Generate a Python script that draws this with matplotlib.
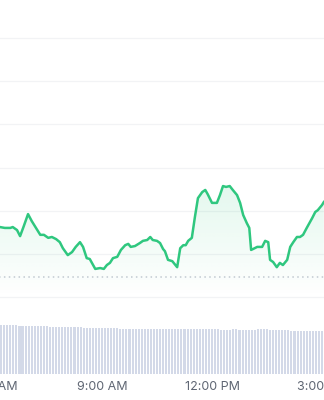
import numpy as np
import pandas as pd
import matplotlib
matplotlib.use("Agg")
import matplotlib.pyplot as plt

# price points (time of day, price)
times = ["6:13", "6:21", "6:30", "6:34", "6:41", "6:46", "6:52", "6:59", "7:05", "7:12",
         "7:19", "7:25", "7:32", "7:38", "7:45", "7:51", "7:56", "8:04", "8:11", "8:17",
         "8:24", "8:29", "8:35", "8:40", "8:49", "8:57", "9:03", "9:08", "9:13", "9:18",
         "9:25", "9:31", "9:38", "9:43", "9:47", "9:54", "10:02", "10:07", "10:14", "10:19",
         "10:23", "10:30", "10:35", "10:40", "10:43", "10:48", "10:55", "10:59", "11:03", "11:08",
         "11:13", "11:17", "11:21", "11:27", "11:32", "11:37", "11:44", "11:49", "11:53", "12:00",
         "12:05", "12:08", "12:13", "12:18", "12:23", "12:29", "12:34", "12:41", "12:46", "12:51",
         "12:57", "13:01", "13:04", "13:07", "13:14", "13:22", "13:27", "13:32", "13:35", "13:40",
         "13:46", "13:51", "13:56", "14:03", "14:08", "14:13", "14:19", "14:24", "14:29", "14:35",
         "14:44", "14:49", "14:53", "15:00", "15:03"]
prices = [1.4162, 1.4160, 1.4160, 1.4162, 1.4155, 1.4141, 1.4164, 1.4192, 1.4176, 1.4160,
          1.4144, 1.4144, 1.4137, 1.4139, 1.4134, 1.4127, 1.4113, 1.4097, 1.4104, 1.4116,
          1.4127, 1.4116, 1.4090, 1.4088, 1.4065, 1.4067, 1.4065, 1.4074, 1.4079, 1.4090,
          1.4093, 1.4109, 1.4120, 1.4123, 1.4116, 1.4118, 1.4125, 1.4130, 1.4132, 1.4139,
          1.4132, 1.4130, 1.4125, 1.4111, 1.4106, 1.4086, 1.4083, 1.4076, 1.4069, 1.4113,
          1.4120, 1.4120, 1.4130, 1.4137, 1.4185, 1.4229, 1.4243, 1.4248, 1.4238, 1.4218,
          1.4218, 1.4218, 1.4236, 1.4257, 1.4255, 1.4257, 1.4248, 1.4236, 1.4218, 1.4190,
          1.4171, 1.4160, 1.4109, 1.4111, 1.4116, 1.4116, 1.4130, 1.4127, 1.4086, 1.4081,
          1.4069, 1.4079, 1.4074, 1.4086, 1.4116, 1.4127, 1.4139, 1.4139, 1.4144, 1.4160,
          1.4183, 1.4197, 1.4201, 1.4213, 1.4220]
open_price = 1.4046

# 5-minute volume bars, from 6:15
volumes = [4.9, 4.9, 4.9, 4.9, 4.9, 4.9, 4.8, 4.8, 4.8, 4.8,
           4.8, 4.8, 4.8, 4.8, 4.8, 4.8, 4.7, 4.7, 4.7, 4.7, 4.7,
           4.7, 4.7, 4.7, 4.7, 4.7, 4.7, 4.6, 4.6, 4.6, 4.6, 4.6, 4.6,
           4.6, 4.6, 4.6, 4.6, 4.6, 4.6, 4.5, 4.5, 4.5, 4.5, 4.5, 4.5,
           4.5, 4.5, 4.5, 4.5, 4.5, 4.5, 4.5, 4.5, 4.5, 4.5, 4.5, 4.5,
           4.5, 4.5, 4.5, 4.5, 4.5, 4.5, 4.5, 4.5, 4.5, 4.5, 4.5, 4.5,
           4.5, 4.5, 4.5, 4.4, 4.4, 4.4, 4.4, 4.5, 4.5, 4.4, 4.4, 4.4,
           4.4, 4.4, 4.4, 4.5, 4.5, 4.5, 4.5, 4.4, 4.4, 4.4, 4.4, 4.4,
           4.4, 4.4, 4.3, 4.3, 4.3, 4.3, 4.3, 4.3, 4.3, 4.3, 4.3, 4.3,
           4.3, 4.3]

tick_hours = [6, 9, 12, 15]
tick_labels = ["6:00 AM", "9:00 AM", "12:00 PM", "3:00 PM"]


def to_hours(s):
    h, m = s.split(":")
    return int(h) + int(m) / 60


x = np.array([to_hours(t) for t in times])
y = np.array(prices)
vol_x = np.array([to_hours(t.strftime("%H:%M"))
                  for t in pd.date_range("2024-01-01 06:15", periods=len(volumes), freq="5min")])

green = "#2fc77f"
xlim = (5.128, 16.145)

fig = plt.figure(figsize=(3.24, 4.0), dpi=100)
ax = fig.add_axes([-40 / 324, 0.236, 404 / 324, 0.6905])
ax.set_xlim(*xlim)
ax.set_ylim(1.398, 1.462)

for g in np.arange(1.40, 1.4601, 0.01):
    ax.axhline(g, color="#f2f3f5", lw=0.9, zorder=0)
ax.axhline(open_price, color="#c5cad3", lw=1.1, ls=(0, (1, 2.2)), zorder=1)

# gradient fill under the line
base = 1.40
poly = ax.fill_between(x, y, base, color="none", lw=0)
rgba = np.zeros((256, 1, 4))
rgba[:, 0, :3] = matplotlib.colors.to_rgb(green)
rgba[:, 0, 3] = np.linspace(0, 1, 256) * 0.13
img = ax.imshow(rgba, extent=[x[0], x[-1], base, y.max()], origin="lower",
                aspect="auto", zorder=1, interpolation="bilinear")
img.set_clip_path(poly.get_paths()[0], transform=ax.transData)
ax.set_xlim(*xlim)
ax.set_ylim(1.398, 1.462)

ax.plot(x, y, color=green, lw=1.8, solid_joinstyle="round", zorder=3)
ax.axis("off")

vax = fig.add_axes([-40 / 324, 26 / 400, 404 / 324, 60 / 400])
vax.bar(vol_x, volumes, width=3.4 / 60, color="#d3d9e8", linewidth=0)
vax.set_xlim(*xlim)
vax.set_ylim(0, 6)
for s in vax.spines.values():
    s.set_visible(False)
vax.set_yticks([])
vax.set_xticks(tick_hours)
vax.set_xticklabels(tick_labels, fontfamily="Inter", fontsize=9, color="#5f6673")
vax.tick_params(axis="x", length=0, pad=5)

fig.savefig("out.png", dpi=100, facecolor="white")
